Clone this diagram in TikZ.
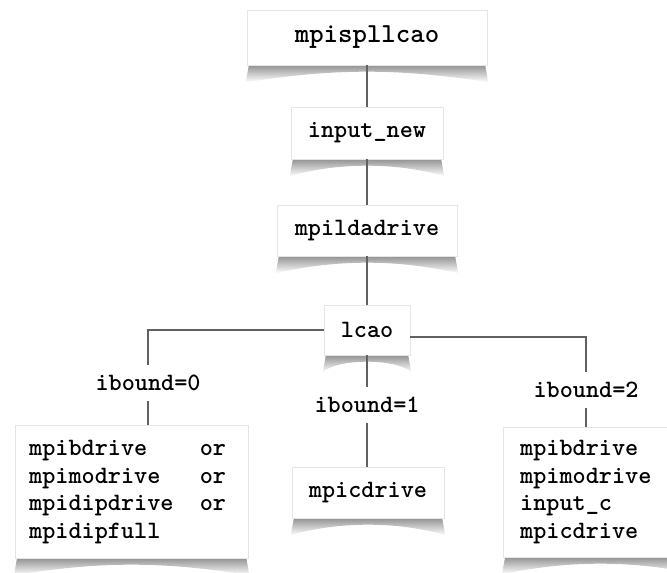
\documentclass[tikz,border=0pt]{standalone}
\usetikzlibrary{calc,fadings,backgrounds}

\tikzfading[name=curlfade, top color=transparent!15, bottom color=transparent!100]
\tikzstyle{routine} = [fill=white, draw=black!10, inner sep=0pt, font={\ttfamily\bfseries\fontsize{25}{27.5}\selectfont}]
\tikzstyle{case} = [inner sep=0pt, minimum height=36pt, font={\ttfamily\bfseries\fontsize{25}{27.5}\selectfont}]
\tikzstyle{link} = [draw=black!62, line width=1.3pt]

% curled shadow under a box
\newcommand{\curlshadow}[1]{%
  \begin{pgfonlayer}{background}
    \fill[black!50, path fading=curlfade] ($(#1.south west)+(2,0)$) -- ($(#1.south west)+(-1,-17)$)
      .. controls ($(#1.south)+(-30,-3)$) and ($(#1.south)+(30,-3)$) .. ($(#1.south east)+(1,-17)$)
      -- ($(#1.south east)+(-2,0)$) -- cycle;
  \end{pgfonlayer}}

\begin{document}
\begin{tikzpicture}[x=1pt,y=1pt]
	\useasboundingbox (0,0) rectangle (667,573);
	\node[routine, minimum width=240pt, minimum height=55pt, font={\ttfamily\bfseries\fontsize{27.5}{30}\selectfont}] (top) at (367,535.5) {mpispllcao};
	\node[routine, minimum width=152pt, minimum height=52pt] (inp) at (367,440) {input\_new};
	\node[routine, minimum width=180pt, minimum height=51pt] (lda) at (367,342.5) {mpildadrive};
	\node[routine, minimum width=86pt, minimum height=50pt] (lcao) at (367,243) {lcao};
	\node[case] (ib0) at (148,190) {ibound=0};
	\node[case] (ib1) at (367,168) {ibound=1};
	\node[case] (ib2) at (586,183) {ibound=2};
	\node[routine, anchor=west, inner xsep=14pt, text width=205pt, align=left, minimum height=133pt] (left) at (15,81.5)
		{\begin{tabular}{@{}l@{\hspace{26.25pt}}l@{}}
			mpibdrive & or\\ mpimodrive & or\\ mpidipdrive & or\\ mpidipfull &
		\end{tabular}};
	\node[routine, minimum width=152pt, minimum height=51pt] (cdrive) at (368,80.5) {mpicdrive};
	\node[routine, anchor=west, inner xsep=17pt, text width=160pt, align=left, minimum height=130pt] (right) at (503,81)
		{mpibdrive\\mpimodrive\\input\_c\\mpicdrive};
	\foreach \n in {top,inp,lda,lcao,left,cdrive,right}
		\curlshadow{\n};
	\draw[link] (top) -- (inp);
	\draw[link] (inp) -- (lda);
	\draw[link] (lda) -- (lcao);
	\draw[link] (lcao.west) -| (ib0.north);
	\draw[link] (lcao) -- (ib1);
	\draw[link] ([yshift=-7pt]lcao.east) -| (ib2.north);
	\draw[link] (ib0.south) -- (ib0.south |- left.north);
	\draw[link] (ib1.south) -- (ib1.south |- cdrive.north);
	\draw[link] (ib2.south) -- (ib2.south |- right.north);
\end{tikzpicture}
\end{document}
